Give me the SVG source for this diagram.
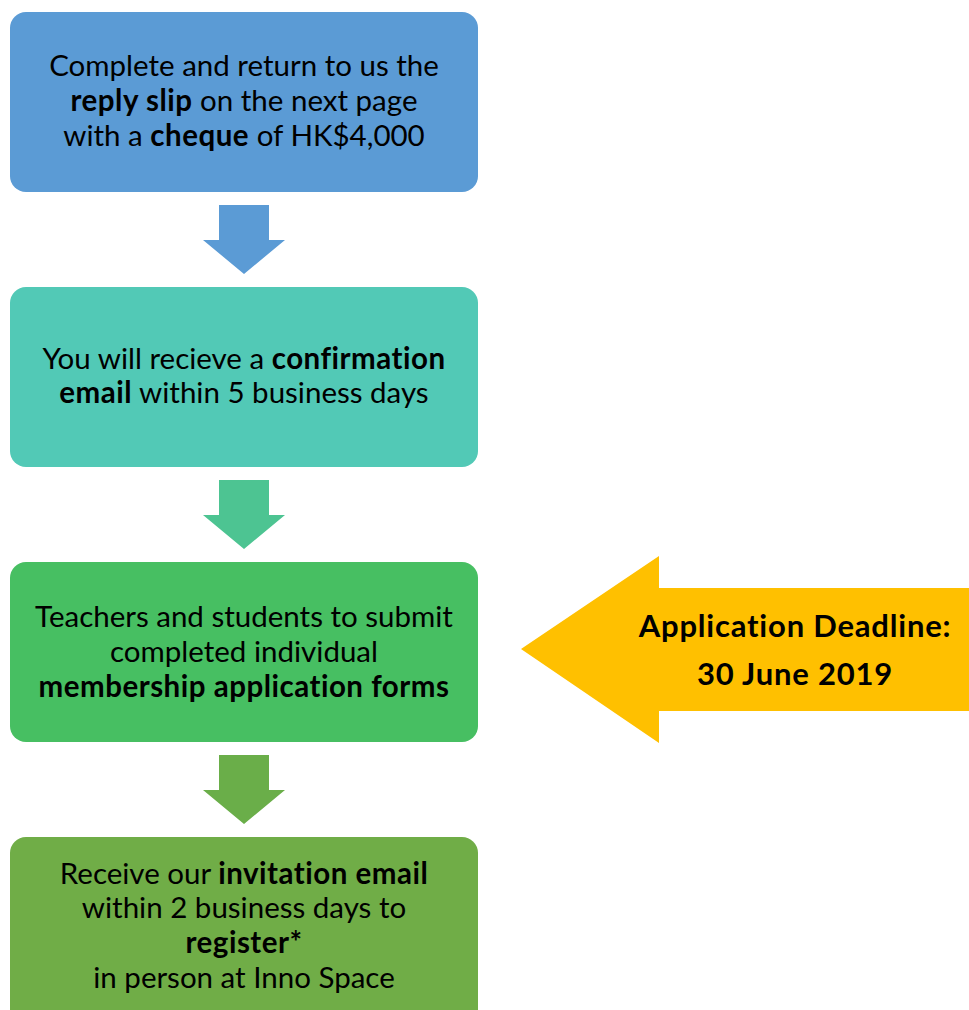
<svg xmlns="http://www.w3.org/2000/svg" width="969" height="1010" viewBox="0 0 969 1010">
<style>
.t{font-family:Lato,"Open Sans","Liberation Sans",sans-serif;font-size:29.5px;fill:#000;text-anchor:middle;font-variant-ligatures:none;font-feature-settings:"liga" 0,"dlig" 0}
.b{font-weight:bold;letter-spacing:0.5px}
.y{font-size:31px;letter-spacing:0.8px}
</style>
<rect width="969" height="1010" fill="#fff"/>
<g id="connectors">
<polygon points="219,205 269,205 269,240 285,240 244,274 203,240 219,240" fill="#5B9BD5"/>
<polygon points="219,480 269,480 269,515 285,515 244,549 203,515 219,515" fill="#4DC492"/>
<polygon points="219,755 269,755 269,790 285,790 244,824 203,790 219,790" fill="#6AAE49"/>
</g>
<g id="step1">
<rect x="10" y="12" width="468" height="180" rx="16" fill="#5B9BD5"/>
<text class="t" x="244" y="76">Complete and return to us the</text>
<text class="t" x="244" y="111"><tspan class="b">reply slip</tspan> on the next page</text>
<text class="t" x="244" y="146">with a <tspan class="b">cheque</tspan> of HK$4,000</text>
</g>
<g id="step2">
<rect x="10" y="287" width="468" height="180" rx="16" fill="#52C9B6"/>
<text class="t" x="244" y="369">You will recieve a <tspan class="b">confirmation</tspan></text>
<text class="t" x="244" y="403"><tspan class="b">email</tspan> within 5 business days</text>
</g>
<g id="step3">
<rect x="10" y="562" width="468" height="180" rx="16" fill="#47BF62"/>
<text class="t" x="244" y="627">Teachers and students to submit</text>
<text class="t" x="244" y="662">completed individual</text>
<text class="t b" x="244" y="697">membership application forms</text>
</g>
<g id="step4">
<rect x="10" y="837" width="468" height="190" rx="16" fill="#70AD47"/>
<text class="t" x="244" y="884">Receive our <tspan class="b">invitation email</tspan></text>
<text class="t" x="244" y="918">within 2 business days to</text>
<text class="t b" x="244" y="953">register*</text>
<text class="t" x="244" y="988">in person at Inno Space</text>
</g>
<g id="deadline">
<polygon points="521,649 659,556 659,588 975,588 975,711 659,711 659,743" fill="#FFC000"/>
<text class="t b y" x="795" y="637">Application Deadline:</text>
<text class="t b y" x="795" y="685">30 June 2019</text>
</g>
</svg>
